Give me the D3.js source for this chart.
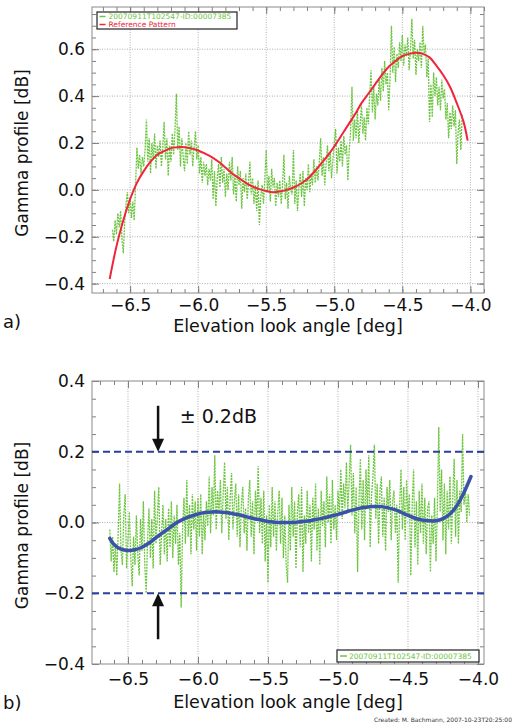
<!DOCTYPE html>
<html>
<head>
<meta charset="utf-8">
<script src="https://cdn.jsdelivr.net/npm/d3@7"></script>
<style>
body { margin: 0; background: #fff; }
text { font-family: "DejaVu Sans", sans-serif; }
</style>
</head>
<body>
<script>
// DONNEES

// profil mesure, echantillonne tous les 0.01 deg a partir de -6.63
var sampleStart = -6.63, sampleStep = 0.01;

var gammaMeasured = [
 -0.17,-0.22,-0.13,-0.19,-0.10,-0.16,-0.09,-0.21,-0.27,-0.14,
 -0.06,-0.01,-0.10,-0.03,-0.12,-0.05,-0.13, 0.02, 0.18, 0.09,
  0.15, 0.07, 0.14, 0.10, 0.17, 0.30, 0.12, 0.22, 0.07, 0.20,
  0.13, 0.24, 0.09, 0.19, 0.14, 0.21, 0.10, 0.18, 0.29, 0.13,
  0.22, 0.06, 0.19, 0.12, 0.24, 0.15, 0.26, 0.41, 0.17, 0.27,
  0.10, 0.22, 0.14, 0.08, 0.20, 0.11, 0.25, 0.15, 0.21, 0.10,
  0.18, 0.25, 0.13, 0.19, 0.07, 0.14, 0.03, 0.12, 0.06, 0.11,
  0.02, 0.09, 0.04, 0.13,-0.04, 0.08,-0.07, 0.05, 0.11, 0.01,
  0.14, 0.03, 0.09,-0.03, 0.07, 0.00, 0.12, 0.04, 0.14,-0.02,
  0.06,-0.05, 0.10, 0.02, 0.08,-0.08, 0.05,-0.01, 0.07,-0.04,
  0.03, 0.12,-0.02, 0.05,-0.06, 0.02,-0.09, 0.04,-0.15,-0.03,
  0.02,-0.06, 0.05, 0.17,-0.01, 0.06,-0.05, 0.09, 0.01, 0.05,
 -0.07, 0.03,-0.03, 0.04,-0.06, 0.02, 0.15,-0.04, 0.03,-0.08,
  0.06, 0.00,-0.02, 0.17,-0.06, 0.04,-0.09, 0.01, 0.07,-0.03,
  0.08,-0.07, 0.05, 0.00, 0.11,-0.01, 0.07, 0.02, 0.13, 0.03,
  0.10, 0.04, 0.12, 0.22, 0.06, 0.14, 0.02, 0.11, 0.19, 0.08,
  0.16, 0.05, 0.13, 0.20, 0.26, 0.07, 0.18, 0.12, 0.21, 0.10,
  0.23, 0.15, 0.19, 0.04, 0.17, 0.25, 0.44, 0.21, 0.30, 0.22,
  0.34, 0.20, 0.28, 0.36, 0.24, 0.31, 0.21, 0.35, 0.28, 0.40,
  0.51, 0.33, 0.44, 0.30, 0.41, 0.36, 0.47, 0.38, 0.52, 0.42,
  0.55, 0.45, 0.50, 0.34, 0.48, 0.70, 0.50, 0.61, 0.46, 0.58,
  0.52, 0.63, 0.55, 0.66, 0.53, 0.62, 0.57, 0.65, 0.51, 0.60,
  0.73, 0.56, 0.64, 0.49, 0.60, 0.55, 0.63, 0.52, 0.70, 0.58,
  0.62, 0.48, 0.56, 0.29, 0.45, 0.31, 0.50, 0.40, 0.48, 0.36,
  0.44, 0.34, 0.47, 0.39, 0.43, 0.30, 0.37, 0.22, 0.33, 0.26,
  0.36, 0.27, 0.34, 0.11, 0.25, 0.30, 0.17, 0.32
];

var refAngle = [-6.65,-6.60,-6.55,-6.50,-6.45,-6.40,-6.35,-6.30,-6.25,-6.20,-6.15,-6.10,-6.05,-6.00,
  -5.95,-5.90,-5.85,-5.80,-5.75,-5.70,-5.65,-5.60,-5.55,-5.50,-5.45,-5.40,-5.35,-5.30,-5.25,-5.20,
  -5.15,-5.10,-5.05,-5.00,-4.95,-4.90,-4.85,-4.80,-4.75,-4.70,-4.65,-4.60,-4.55,-4.50,-4.45,-4.40,
  -4.35,-4.30,-4.25,-4.20,-4.15,-4.10,-4.05,-4.02];
var refGamma = [-0.38,-0.24,-0.13,-0.04,0.03,0.08,0.12,0.15,0.165,0.178,0.182,0.182,0.177,0.168,
  0.155,0.14,0.12,0.095,0.07,0.05,0.03,0.014,0.003,-0.005,-0.01,-0.007,0.0,0.01,0.025,0.045,
  0.075,0.11,0.145,0.185,0.23,0.275,0.32,0.37,0.41,0.45,0.49,0.525,0.55,0.57,0.58,0.585,
  0.58,0.565,0.53,0.49,0.44,0.37,0.29,0.21];

// residu (mesure - reference), meme echantillonnage
var gammaResidual = [
 -0.02,-0.11,-0.04,-0.14,-0.06,-0.15,-0.03, 0.11,-0.08,-0.12,
  0.02, 0.08,-0.13,-0.05, 0.03,-0.10,-0.18,-0.04,-0.12, 0.02,
 -0.09,-0.15, 0.01,-0.08, 0.06,-0.12,-0.20,-0.05, 0.04,-0.10,
  0.01,-0.13, 0.09,-0.06, 0.02, 0.10,-0.12,-0.03, 0.05,-0.09,
  0.01,-0.11, 0.04,-0.07, 0.06,-0.10, 0.02,-0.06, 0.05,-0.12,
 -0.03,-0.24,-0.02, 0.07,-0.06, 0.12,-0.04, 0.05,-0.09, 0.08,
 -0.02, 0.06,-0.08, 0.07,-0.04, 0.08,-0.09, 0.03,-0.05, 0.06,
 -0.01, 0.13,-0.03, 0.10, 0.02, 0.19,-0.02, 0.09, 0.03, 0.12,
 -0.03, 0.08, 0.17, 0.01, 0.10,-0.05, 0.07, 0.14,-0.02, 0.06,
  0.11,-0.04, 0.08,-0.07, 0.05, 0.10,-0.03, 0.04,-0.08, 0.07,
  0.12,-0.04, 0.06,-0.09, 0.09, 0.01, 0.16,-0.03, 0.07,-0.06,
  0.09,-0.11, 0.02,-0.17, 0.05,-0.07, 0.10,-0.04, 0.06,-0.08,
  0.03, 0.09,-0.06, 0.07,-0.10, 0.02,-0.12,-0.17, 0.05,-0.08,
  0.10,-0.04, 0.06,-0.13, 0.03, 0.08,-0.07, 0.10,-0.14, 0.02,
 -0.06, 0.09,-0.03, 0.05,-0.11, 0.07,-0.02, 0.11,-0.08, 0.04,
 -0.12, 0.09,-0.01, 0.06,-0.07, 0.13, 0.00, 0.08,-0.06, 0.12,
 -0.02, 0.05,-0.05, 0.09, 0.02, 0.15, 0.01, 0.11, 0.04, 0.17,
  0.03, 0.12, 0.22, 0.02, 0.14,-0.03, 0.10,-0.14, 0.06, 0.18,
 -0.02, 0.12,-0.05, 0.15, 0.04, 0.19,-0.07, 0.08, 0.13, 0.22,
  0.01, 0.11,-0.06, 0.09, 0.13,-0.04, 0.07,-0.08, 0.10, 0.03,
  0.12,-0.05, 0.06, 0.09,-0.03, 0.05,-0.17, 0.04, 0.15,-0.02,
  0.10,-0.05, 0.12, 0.02, 0.08,-0.15, 0.05, 0.15,-0.07, 0.06,
 -0.12, 0.09,-0.03, 0.11,-0.06, 0.07,-0.09, 0.04, 0.06,-0.14,
  0.02,-0.06, 0.07,-0.11, 0.04, 0.27, 0.03, 0.15,-0.05, 0.11,
 -0.09, 0.09,-0.02, 0.13,-0.06, 0.07, 0.18,-0.04, 0.12,-0.06,
  0.09, 0.03, 0.25, 0.05, 0.10, 0.00, 0.08, 0.02
];

var fitAngle = [-6.63,-6.60,-6.55,-6.50,-6.45,-6.40,-6.35,-6.30,-6.25,-6.20,-6.15,-6.10,-6.05,-6.00,
  -5.95,-5.90,-5.85,-5.80,-5.75,-5.70,-5.65,-5.60,-5.55,-5.50,-5.45,-5.40,-5.35,-5.30,-5.25,-5.20,
  -5.15,-5.10,-5.05,-5.00,-4.95,-4.90,-4.85,-4.80,-4.75,-4.70,-4.65,-4.60,-4.55,-4.50,-4.45,-4.40,
  -4.35,-4.30,-4.25,-4.20,-4.15,-4.10,-4.05];
var fitGamma = [-0.045,-0.062,-0.075,-0.079,-0.077,-0.070,-0.058,-0.043,-0.028,-0.014,0.000,0.010,0.018,0.024,
  0.028,0.030,0.030,0.028,0.025,0.021,0.016,0.011,0.007,0.003,0.001,0.000,0.000,0.001,0.003,0.005,
  0.009,0.013,0.018,0.023,0.029,0.035,0.040,0.043,0.045,0.045,0.042,0.037,0.029,0.020,0.012,0.007,
  0.005,0.005,0.011,0.024,0.048,0.085,0.130];

var xTicks = [-6.5, -6.0, -5.5, -5.0, -4.5, -4.0];
var yTicksA = [-0.4, -0.2, 0.0, 0.2, 0.4, 0.6];
var yTicksB = [-0.4, -0.2, 0.0, 0.2, 0.4];
var toleranceLevels = [0.2, -0.2];

var seriesName = "20070911T102547-ID:00007385";
var refName = "Reference Pattern";
var xTitle = "Elevation look angle [deg]";
var yTitle = "Gamma profile [dB]";

var cGreen = "#6cc540", cRed = "#f0243a", cBlue = "#3a52a8", cDash = "#2b3f9c";

// SVG
var svg = d3.select("body").append("svg")
    .attr("width", 513)
    .attr("height", 726);

var fmt = d3.format(".1f");

function range10(a, b, step) {   // petites graduations
  var out = [];
  for (var i = Math.ceil(a / step - 1e-6); i * step <= b + 1e-9; i++) out.push(+(i * step).toFixed(3));
  return out;
}

function clean(sel) {
  sel.select(".domain").remove();
  sel.selectAll("line").attr("stroke", "#808080");
  sel.selectAll("text").attr("font-family", "DejaVu Sans").attr("font-size", 17).attr("fill", "#111");
}

// CREATION D'UN CADRE
function panel(o) {
  var g = svg.append("g");
  var x = d3.scaleLinear().domain(o.xDom).range([o.left, o.right]);
  var y = d3.scaleLinear().domain(o.yDom).range([o.bottom, o.top]);
  var xMinor = range10(o.xDom[0], o.xDom[1], 0.1);
  var yMinor = range10(o.yDom[0], o.yDom[1], 0.05);

  // grille pointillee
  g.selectAll(".vg").data(xTicks).enter().append("line")
      .attr("x1", d => x(d)).attr("x2", d => x(d))
      .attr("y1", o.top).attr("y2", o.bottom)
      .attr("stroke", "#9a9a9a").attr("stroke-width", 0.8).attr("stroke-dasharray", "1,1.5");
  g.selectAll(".hg").data(o.hGrid).enter().append("line")
      .attr("x1", o.left).attr("x2", o.right)
      .attr("y1", d => y(d)).attr("y2", d => y(d))
      .attr("stroke", "#9a9a9a").attr("stroke-width", 0.8).attr("stroke-dasharray", "1,1.5");

  // axes (graduations vers l'interieur)
  g.append("g").attr("transform", "translate(0," + o.bottom + ")")
      .call(d3.axisBottom(x).tickValues(xMinor).tickSize(-4).tickFormat("")).call(clean);
  g.append("g").attr("transform", "translate(0," + o.bottom + ")")
      .call(d3.axisBottom(x).tickValues(xTicks).tickSize(-7).tickPadding(o.xPad).tickFormat(fmt)).call(clean);
  g.append("g").attr("transform", "translate(0," + o.top + ")")
      .call(d3.axisTop(x).tickValues(xMinor).tickSize(-4).tickFormat("")).call(clean);
  g.append("g").attr("transform", "translate(0," + o.top + ")")
      .call(d3.axisTop(x).tickValues(xTicks).tickSize(-7).tickFormat("")).call(clean);
  g.append("g").attr("transform", "translate(" + o.left + ",0)")
      .call(d3.axisLeft(y).tickValues(yMinor).tickSize(-4).tickFormat("")).call(clean);
  g.append("g").attr("transform", "translate(" + o.left + ",0)")
      .call(d3.axisLeft(y).tickValues(o.yTicks).tickSize(-7).tickPadding(7).tickFormat(fmt)).call(clean);
  g.append("g").attr("transform", "translate(" + o.right + ",0)")
      .call(d3.axisRight(y).tickValues(yMinor).tickSize(-4).tickFormat("")).call(clean);
  g.append("g").attr("transform", "translate(" + o.right + ",0)")
      .call(d3.axisRight(y).tickValues(o.yTicks).tickSize(-7).tickFormat("")).call(clean);

  g.append("rect")
      .attr("x", o.left).attr("y", o.top)
      .attr("width", o.right - o.left).attr("height", o.bottom - o.top)
      .attr("fill", "none").attr("stroke", "#8a8a8a").attr("stroke-width", 1);

  // titres
  g.append("text")
      .attr("x", (o.left + o.right) / 2).attr("y", o.bottom + o.titleGap)
      .attr("text-anchor", "middle").attr("font-size", 17.5).attr("fill", "#111")
      .text(xTitle);
  g.append("text")
      .attr("transform", "translate(28," + ((o.top + o.bottom) / 2 + 3) + ") rotate(-90)")
      .attr("text-anchor", "middle").attr("font-size", 17).attr("fill", "#111")
      .text(yTitle);
  g.append("text")
      .attr("x", 3).attr("y", o.labelY)
      .attr("font-size", 18).attr("fill", "#111")
      .text(o.label);

  return {g: g, x: x, y: y};
}

// PANNEAU a)
var pa = panel({left: 92, right: 484, top: 7, bottom: 293,
                xDom: [-6.78, -3.9], yDom: [-0.44, 0.78], xPad: 6, titleGap: 39,
                yTicks: yTicksA, hGrid: yTicksA, label: "a)", labelY: 328});

var measLineA = d3.line()
    .x(function(d, i) { return pa.x(sampleStart + i * sampleStep); })
    .y(function(d) { return pa.y(d); });

pa.g.append("path")
    .datum(gammaMeasured)
    .attr("fill", "none").attr("stroke", cGreen).attr("stroke-width", 1.3)
    .attr("stroke-dasharray", "2,1")
    .attr("d", measLineA);

var refLine = d3.line().curve(d3.curveCatmullRom)
    .x(function(d, i) { return pa.x(refAngle[i]); })
    .y(function(d) { return pa.y(d); });

pa.g.append("path")
    .datum(refGamma)
    .attr("fill", "none").attr("stroke", cRed).attr("stroke-width", 2)
    .attr("d", refLine);

// legende a)
var lgA = pa.g.append("g");
lgA.append("rect").attr("x", 97).attr("y", 12).attr("width", 140).attr("height", 17)
    .attr("fill", "#fff").attr("stroke", "#222").attr("stroke-width", 1.2);
[[seriesName, cGreen], [refName, cRed]].forEach(function(e, i) {
  lgA.append("line").attr("x1", 99.5).attr("x2", 105.5)
      .attr("y1", 16.5 + i * 8).attr("y2", 16.5 + i * 8)
      .attr("stroke", e[1]).attr("stroke-width", 1.5);
  lgA.append("text").attr("x", 108.5).attr("y", 19 + i * 8)
      .attr("font-size", 7.5).attr("fill", e[1]).text(e[0]);
});

// PANNEAU b)
var pb = panel({left: 92, right: 484, top: 381, bottom: 664,
                xDom: [-6.757, -3.957], yDom: [-0.4, 0.4], xPad: 9, titleGap: 44,
                yTicks: yTicksB, hGrid: [0.0], label: "b)", labelY: 709});

var measLineB = d3.line()
    .x(function(d, i) { return pb.x(sampleStart + i * sampleStep); })
    .y(function(d) { return pb.y(d); });

pb.g.append("path")
    .datum(gammaResidual)
    .attr("fill", "none").attr("stroke", cGreen).attr("stroke-width", 1.3)
    .attr("stroke-dasharray", "2,1")
    .attr("d", measLineB);

pb.g.selectAll(".tol").data(toleranceLevels).enter().append("line")
    .attr("x1", 92).attr("x2", 484)
    .attr("y1", d => pb.y(d)).attr("y2", d => pb.y(d))
    .attr("stroke", cDash).attr("stroke-width", 2).attr("stroke-dasharray", "7,4");

var fitLine = d3.line().curve(d3.curveCatmullRom)
    .x(function(d, i) { return pb.x(fitAngle[i]); })
    .y(function(d) { return pb.y(d); });

pb.g.append("path")
    .datum(fitGamma)
    .attr("fill", "none").attr("stroke", cBlue).attr("stroke-width", 3.5)
    .attr("stroke-linecap", "round")
    .attr("d", fitLine);

// fleches et texte +-0.2dB
var arrowX = pb.x(-6.285);
[[0.33, 0.2], [-0.33, -0.2]].forEach(function(a) {
  var y0 = pb.y(a[0]), y1 = pb.y(a[1]);
  var s = y1 > y0 ? 1 : -1;
  pb.g.append("line").attr("x1", arrowX).attr("x2", arrowX)
      .attr("y1", y0).attr("y2", y1 - s * 10)
      .attr("stroke", "#111").attr("stroke-width", 2.5);
  pb.g.append("path")
      .attr("d", "M" + (arrowX - 6) + "," + (y1 - s * 13) + "L" + (arrowX + 6) + "," + (y1 - s * 13) +
                 "L" + arrowX + "," + y1 + "Z")
      .attr("fill", "#111");
});
pb.g.append("text")
    .attr("x", pb.x(-6.13)).attr("y", pb.y(0.28))
    .attr("font-family", "Liberation Sans").attr("font-size", 19).attr("fill", "#111")
    .text("± 0.2dB");

// legende b)
var lgB = pb.g.append("g");
lgB.append("rect").attr("x", 337).attr("y", 650).attr("width", 142).attr("height", 12)
    .attr("fill", "#fff").attr("stroke", "#222").attr("stroke-width", 1.2);
lgB.append("line").attr("x1", 340).attr("x2", 347).attr("y1", 656).attr("y2", 656)
    .attr("stroke", cGreen).attr("stroke-width", 1.5);
lgB.append("text").attr("x", 349).attr("y", 659)
    .attr("font-size", 7.5).attr("fill", cGreen).text(seriesName);

svg.append("text")
    .attr("x", 512).attr("y", 722).attr("text-anchor", "end")
    .attr("font-size", 6).attr("fill", "#333")
    .text("Created: M. Bachmann, 2007-10-23T20:25:00");
</script>
</body>
</html>
